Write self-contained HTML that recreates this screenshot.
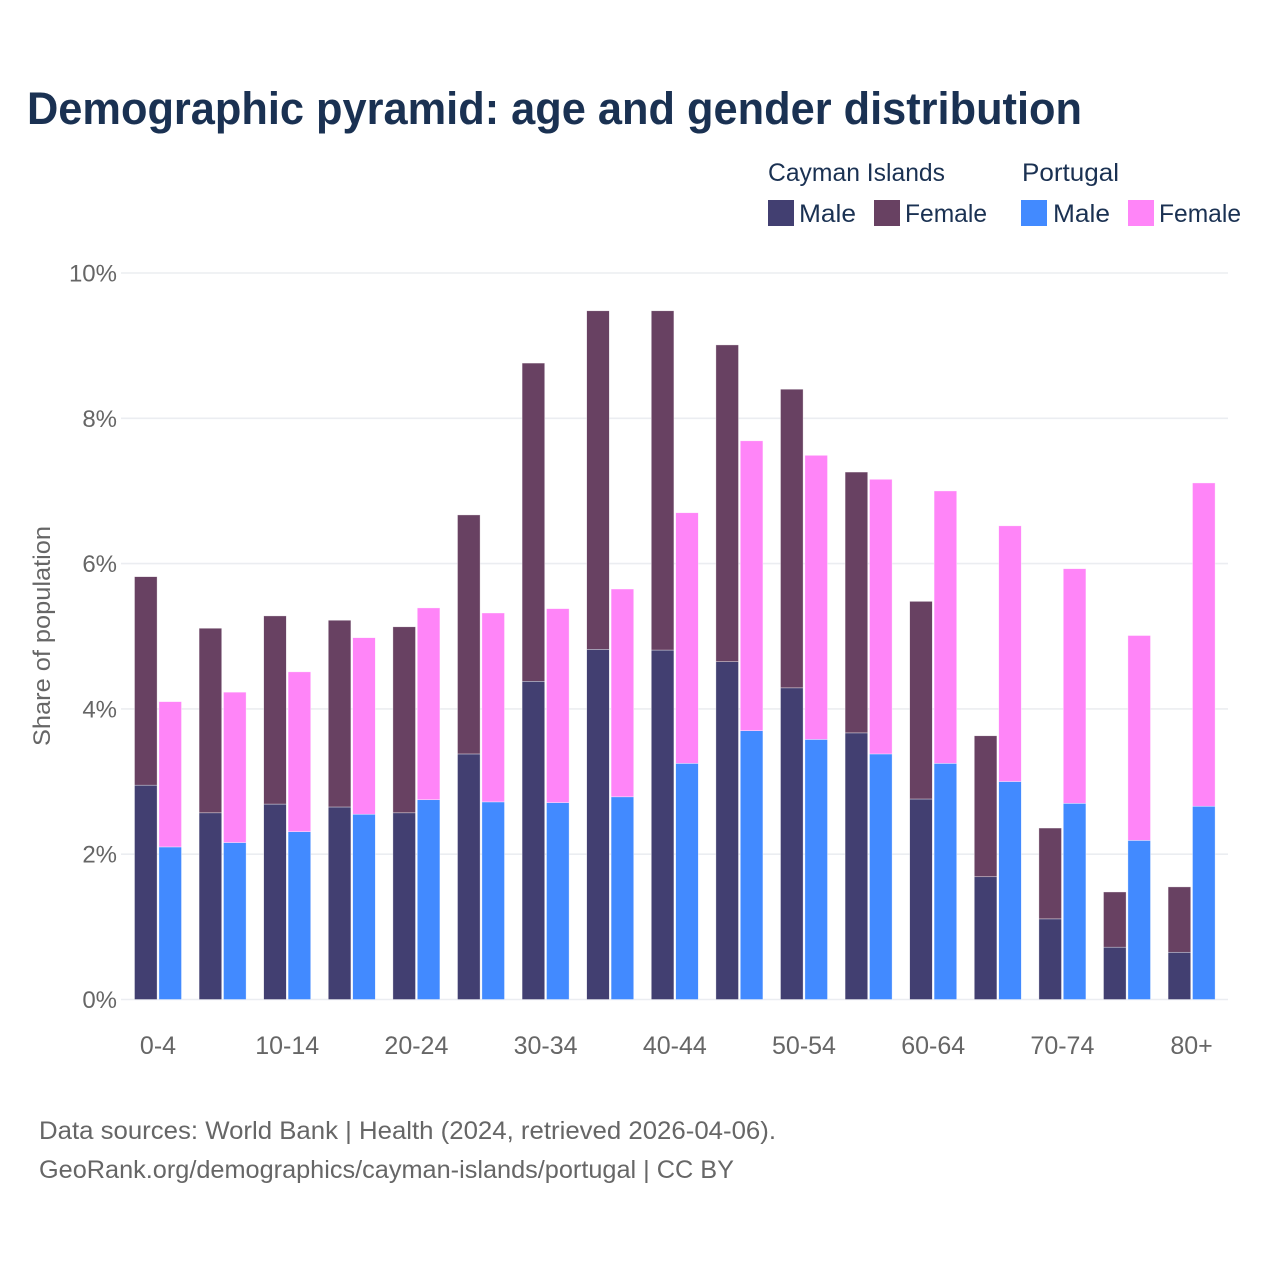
<!DOCTYPE html>
<html lang="en">
<head>
<meta charset="utf-8">
<title>Demographic pyramid: age and gender distribution</title>
<style>
html,body{margin:0;padding:0;background:#fff;width:1280px;height:1280px;overflow:hidden}
svg{display:block;font-family:"Liberation Sans",sans-serif}
</style>
</head>
<body>
<svg id="chart" width="1280" height="1280" viewBox="0 0 1280 1280" xmlns="http://www.w3.org/2000/svg">
  <rect width="1280" height="1280" fill="#fff"/>
  <text x="27" y="124" font-size="45" font-weight="700" fill="#1a3152" textLength="1055" lengthAdjust="spacingAndGlyphs">Demographic pyramid: age and gender distribution</text>

  <g font-size="25" fill="#1a3152">
    <text x="768" y="181" textLength="177" lengthAdjust="spacingAndGlyphs">Cayman Islands</text>
    <text x="1022" y="181" textLength="97" lengthAdjust="spacingAndGlyphs">Portugal</text>
    <rect x="768" y="200" width="26" height="26" fill="#423f71"/>
    <text x="799" y="222" textLength="57" lengthAdjust="spacingAndGlyphs">Male</text>
    <rect x="874" y="200" width="26" height="26" fill="#684162"/>
    <text x="905" y="222" textLength="82" lengthAdjust="spacingAndGlyphs">Female</text>
    <rect x="1021" y="200" width="26" height="26" fill="#428aff"/>
    <text x="1053" y="222" textLength="57" lengthAdjust="spacingAndGlyphs">Male</text>
    <rect x="1128" y="200" width="26" height="26" fill="#ff85f8"/>
    <text x="1159" y="222" textLength="82" lengthAdjust="spacingAndGlyphs">Female</text>
  </g>

  <g id="grid"></g>
  <g id="yticks" font-size="24" fill="#666" text-anchor="end"></g>
  <g id="bars"></g>
  <g id="xticks" font-size="25" fill="#666" text-anchor="middle"></g>

  <text transform="translate(50,636) rotate(-90)" font-size="24" fill="#666" text-anchor="middle" textLength="220" lengthAdjust="spacingAndGlyphs">Share of population</text>

  <text x="39" y="1139" font-size="25" fill="#666" textLength="737" lengthAdjust="spacingAndGlyphs">Data sources: World Bank | Health (2024, retrieved 2026-04-06).</text>
  <text x="39" y="1178" font-size="25" fill="#666" textLength="695" lengthAdjust="spacingAndGlyphs">GeoRank.org/demographics/cayman-islands/portugal | CC BY</text>
</svg>
<script>
const categories = ["0-4","5-9","10-14","15-19","20-24","25-29","30-34","35-39","40-44","45-49","50-54","55-59","60-64","65-69","70-74","75-79","80+"];
const caymanMale = [2.95,2.57,2.69,2.65,2.57,3.38,4.38,4.82,4.81,4.65,4.29,3.67,2.76,1.69,1.11,0.72,0.65];
const caymanFemale = [2.87,2.54,2.59,2.57,2.56,3.29,4.38,4.66,4.67,4.36,4.11,3.59,2.72,1.94,1.25,0.76,0.90];
const portugalMale = [2.10,2.16,2.31,2.55,2.75,2.72,2.71,2.79,3.25,3.70,3.58,3.38,3.25,3.00,2.70,2.19,2.66];
const portugalFemale = [2.00,2.07,2.20,2.43,2.64,2.60,2.67,2.86,3.45,3.99,3.91,3.78,3.75,3.52,3.23,2.82,4.45];
const yTickValues = [0,2,4,6,8,10];
const xTickLabels = ["0-4","10-14","20-24","30-34","40-44","50-54","60-64","70-74","80+"];

const NS = "http://www.w3.org/2000/svg";
const Y0 = 999.5, Y10 = 273, X0 = 158, STEP = 64.6;
const BAR_W = 22.6, GAP_OFFSET = 12.2;
function yScale(v){ return Y0 + (Y10 - Y0) * v / 10; }
function xScale(cat){ return X0 + STEP * categories.indexOf(cat); }
function make(tag, parent, attrs){
  const el = document.createElementNS(NS, tag);
  for (const k in attrs) el.setAttribute(k, attrs[k]);
  parent.appendChild(el);
  return el;
}
const grid = document.getElementById("grid");
const yticks = document.getElementById("yticks");
const xticks = document.getElementById("xticks");
const bars = document.getElementById("bars");

yTickValues.forEach(function(v){
  const line = make("line", grid, {x1:121, x2:1228, y1:yScale(v), y2:yScale(v), stroke:"#ebedf1", "stroke-width":1.6});
  
  
  const t = make("text", yticks, {x:117, y:yScale(v)+8.5});
  
  
  t.textContent = v + "%";
});
xTickLabels.forEach(function(c){
  const t = make("text", xticks, {x:xScale(c), y:1054});
  
  
  t.textContent = c;
});
function drawSegment(x, base, value, color, name){
  const yTop = yScale(base + value), yBot = yScale(base);
  const r = make("rect", bars, {x:x, y:yTop, width:BAR_W, height:yBot - yTop, fill:color, stroke:"#fff", "stroke-opacity":0.6, "stroke-width":0.6});
  
  
}
categories.forEach(function(c, i){
  const cx = xScale(c);
  const left = cx - GAP_OFFSET - BAR_W / 2, right = cx + GAP_OFFSET - BAR_W / 2;
  drawSegment(left, 0, caymanMale[i], "#423f71", "bar-cayman-male");
  drawSegment(left, caymanMale[i], caymanFemale[i], "#684162", "bar-cayman-female");
  drawSegment(right, 0, portugalMale[i], "#428aff", "bar-portugal-male");
  drawSegment(right, portugalMale[i], portugalFemale[i], "#ff85f8", "bar-portugal-female");
});
</script>
</body>
</html>
